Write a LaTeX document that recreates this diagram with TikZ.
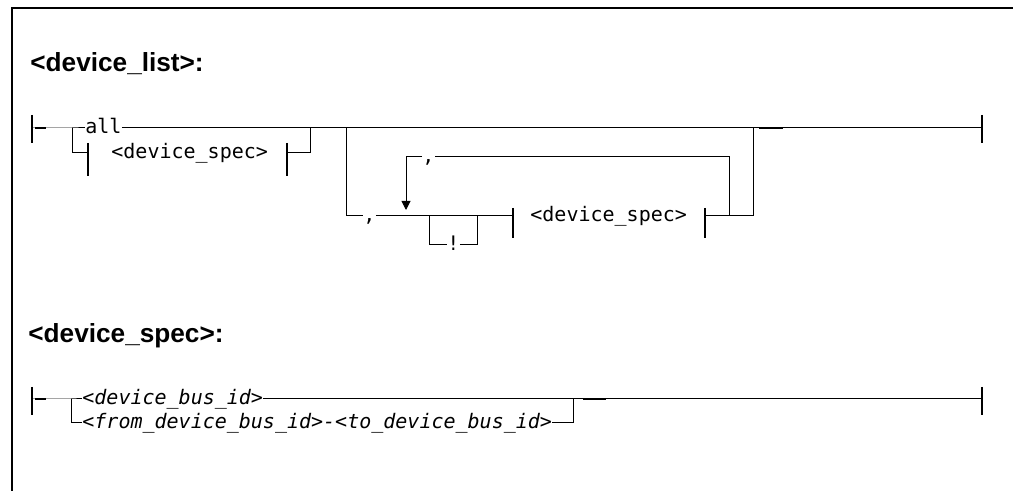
\documentclass[tikz,border=0pt]{standalone}
\usepackage{fontspec}
\setmainfont{Liberation Sans}
\setmonofont{DejaVu Sans Mono}
\usetikzlibrary{arrows.meta,positioning}

\begin{document}
\begin{tikzpicture}[x=0.5pt,y=-0.5pt,
  hd/.style={font=\fontsize{13.1}{16}\selectfont\bfseries,anchor=base west,inner sep=0pt},
  kw/.style={font=\fontsize{10}{12}\selectfont\ttfamily,inner sep=0pt,anchor=mid west},
  var/.style={kw,font=\fontsize{10}{12}\selectfont\ttfamily\itshape},
  rl/.style={line width=0.5pt},
  bar/.style={line width=0.6pt},
  dk/.style={line width=1.1pt},
  tip/.style={-{Triangle[width=4.5pt,length=4.5pt]}}]
\useasboundingbox (0,0) rectangle (1013,491);
\draw[line width=0.7pt] (12,491) -- (12,8) -- (1013,8);

% <device_list>
\node[hd] (h1) at (30,72) {<device\_list>:};
\coordinate (s1) at (32,128);
\coordinate (e1) at (982,128);
\coordinate (j1) at (72,128);
\coordinate (j2) at (310,128);
\coordinate (j3) at (346,128);
\coordinate (j4) at (753,216);
\node[kw] (all) at (85,128) {all};
\coordinate (b1l) at (88,153);
\coordinate (b1r) at (287,153);
\node[kw] (ds1) at (111,153) {<device\_spec>};
\draw[bar] (s1) ++(0,-13) -- ++(0,28);
\draw[bar] (e1) ++(0,-13) -- ++(0,28);
\draw[rl] (s1) -- (j1) -- (all.mid west);
\draw[rl] (all.mid east) -- (e1);
\draw[rl] (j1) |- (b1l);
\draw[rl] (b1r) -| (j2);
\draw[bar] (b1l) ++(0,-10) -- ++(0,33);
\draw[bar] (b1r) ++(0,-10) -- ++(0,33);
\draw[dk] (35,128) -- (46,128);
\draw[dk] (759,128) -- (783,128);

% repeat group
\node[kw] (cm1) at (363,216) {,};
\node[kw] (cm2) at (422,157) {,};
\node[kw] (nt) at (447,245) {!};
\coordinate (lp) at (406,216);
\coordinate (x1) at (429,216);
\coordinate (x2) at (477,216);
\coordinate (lr) at (729,216);
\coordinate (b2l) at (513,216);
\coordinate (b2r) at (705,216);
\node[kw] (ds2) at (530,216) {<device\_spec>};
\draw[rl] (j3) |- (cm1.mid west);
\draw[rl] (cm1.mid east) -- (b2l);
\draw[rl] (x1) |- (nt.mid west);
\draw[rl] (nt.mid east) -| (x2);
\draw[rl] (b2r) -- (j4) -- (j4 |- j3);
\draw[rl] (lr) |- (cm2.mid east);
\draw[rl,tip,shorten >=3pt] (cm2.mid west) -| (lp);
\draw[bar] (b2l) ++(0,-8) -- ++(0,30);
\draw[bar] (b2r) ++(0,-8) -- ++(0,30);

% <device_spec>
\node[hd] (h2) at (28,343) {<device\_spec>:};
\coordinate (s2) at (32,399);
\coordinate (e2) at (982,399);
\coordinate (k1) at (71,399);
\coordinate (k2) at (573,399);
\node[var] (bid) at (82,399) {<device\_bus\_id>};
\node[var] (rng) at (82,423) {<from\_device\_bus\_id>-<to\_device\_bus\_id>};
\draw[bar] (s2) ++(0,-12) -- ++(0,28);
\draw[bar] (e2) ++(0,-12) -- ++(0,28);
\draw[rl] (s2) -- (k1) -- (bid.mid west);
\draw[rl] (bid.mid east) -- (e2);
\draw[rl] (k1) |- (rng.mid west);
\draw[rl] (rng.mid east) -| (k2);
\draw[dk] (35,399) -- (46,399);
\draw[dk] (583,399) -- (606,399);
\end{tikzpicture}
\end{document}
